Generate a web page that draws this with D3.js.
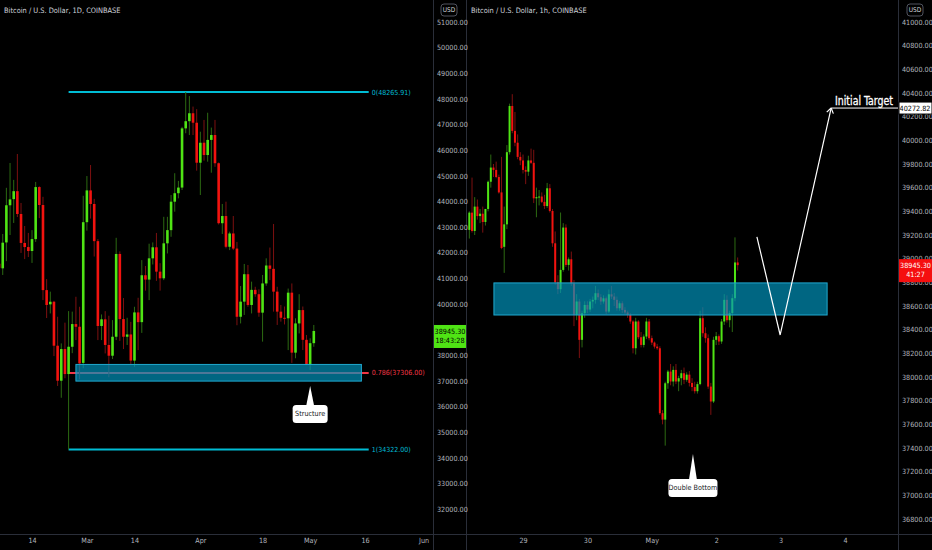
<!DOCTYPE html>
<html><head><meta charset="utf-8">
<script src="https://cdn.jsdelivr.net/npm/d3@7"></script>
<style>
html,body{margin:0;padding:0;background:#000;}
svg{display:block;}
text{font-family:'Liberation Sans Narrow','DejaVu Sans Condensed','Liberation Sans',Arial,sans-serif;}
</style></head><body>
<svg id="c" width="932" height="550"></svg>
<script>
// ---------------- DATA ----------------
// Left chart: BTC/USD daily, starting 2022-02-05, consecutive days
const leftStart = "2022-02-05";
const leftOpen = [41570,41390,42400,43850,44090,44400,43510,42380,42220,42065,42530,44560,43860,40540,39985,40086,38370,37005,38240,37265,38330,39215,39110,37700,
43190,44430,43900,42450,39140,39400,38400,37980,38720,41950,39410,38720,38810,37790,39670,39290,41120,40950,41780,42210,41260,41000,42365,42880,43990,44320,44540,46850,47130,47440,47070,
45510,46290,45810,46400,46590,45490,43150,43430,42230,42750,42160,39500,40090,41160,39960,40550,40380,39660,40800,41500,41370,40480,39700,39460,39440,40440,38100,39240,39760,38600,
37630,38470];
const leftHigh = [41940,42730,44530,45500,44840,45850,43940,43040,42770,42880,44760,44590,44180,40970,40480,40120,39500,38460,39270,39720,39700,40280,39890,44220,
44990,45420,44100,42530,39590,39720,39540,39370,42580,42050,40230,39460,39300,39890,40240,41710,41480,42350,42400,42770,41590,43400,43400,44250,45100,44800,46910,48266,48110,47700,47600,
46720,47180,47460,46880,47180,45520,43900,43990,42820,43430,42420,40700,41560,41520,40870,40670,40570,41130,41780,42200,43120,40670,39960,39900,40600,40800,39440,40380,39900,38790,
38660,39180];
const leftLow = [41100,41130,41670,42690,43160,43390,41990,41750,41830,41600,42420,43350,40150,39450,39630,37965,36800,36340,37100,34322,38080,38590,37060,37490,
42860,43330,41850,38590,38590,38070,37140,37850,38590,38560,38240,38400,37620,37550,38200,38870,40520,40150,41540,40900,40520,40930,41970,42620,43600,44120,44445,46660,46590,46590,45200,
44250,45590,45550,45120,45350,43100,42730,42170,42100,42100,39170,39240,39570,39890,39630,40280,39500,38530,40710,40930,39700,39180,39310,39200,38200,37700,37880,38850,38200,37620,
37420,38330];
const leftClose = [41410,42390,43850,44080,44400,43510,42380,42220,42065,42530,44560,43860,40540,39960,40086,38370,37005,38240,37265,38330,39215,39110,37680,43190,
44430,43900,42450,39140,39400,38400,37980,38720,41950,39410,38720,38810,37790,39670,39290,41120,40950,41780,42210,41260,41000,42365,42880,43990,44320,44540,46850,47130,47440,47070,45510,
46290,45810,46400,46590,45490,43150,43430,42230,42750,42160,39500,40090,41160,39960,40550,40380,39660,40800,41500,41370,40480,39700,39460,39440,40440,38100,39240,39760,38600,37630,
38470,38945.3];

// 39000.00 is hidden behind the last-price badge on the left scale
const leftPriceTicks = [32000,33000,34000,35000,36000,37000,38000,40000,41000,42000,43000,44000,45000,46000,47000,48000,49000,50000,51000];
const leftTimeTicks = ["2022-02-14","2022-03-01","2022-03-14","2022-04-01","2022-04-18","2022-05-01","2022-05-16","2022-06-01"];
const leftTimeLabels = ["14","Mar","14","Apr","18","May","16","Jun"];

const fibLevels = ["0","0.786","1"];
const fibPrices = [48265.91, 37306.00, 34322.00];
const fibRange = ["2022-02-24","2022-05-17"];
const leftZone = {from:"2022-02-26", to:"2022-05-15", top:37640, bottom:36990};
const leftCallout = {date:"2022-05-01", price:36800, text:"Structure"};
const leftLast = {price:38945.30, countdown:"18:43:28"};

// Right chart: BTC/USD hourly, starting 2022-04-28 04:00, consecutive hours
const rightStart = "2022-04-28 04:00";
const rightOpen = [39243,39389,39234,39440,39360,39380,39310,39420,39650,39770,39750,39690,39560,39100,39290,39900,40290,40080,39980,39860,
39830,39750,39735,39830,39810,39510,39520,39525,39480,39445,39595,39403,39130,38800,38742,38905,39263,38947,38995,38790,
38525,38638,38314,38539,38609,38570,38638,38652,38708,38674,38638,38665,38553,38699,38680,38652,38581,38623,38567,38545,
38525,38469,38243,38469,38336,38271,38342,38469,38328,38291,38257,38243,37694,37640,37947,38046,37962,38060,37962,37990,
38032,37976,38020,37950,37915,37880,37940,38497,38370,38328,37919,37793,38314,38345,38300,38469,38652,38480,38540,38666,
38968];
const rightHigh = [39400,39685,39520,39500,39420,39440,39420,39660,39880,39800,39820,39710,39860,39440,39960,40310,40390,40240,40050,39900,
39880,39780,39870,39930,39920,39600,39580,39560,39540,39640,39630,39420,39230,38860,39390,39300,39290,39010,39060,38820,
38700,38660,38560,38640,38640,38660,38680,38770,38740,38700,38690,38680,38740,38770,38710,38680,38640,38640,38590,38560,
38540,38480,38500,38480,38380,38360,38500,38490,38350,38300,38280,38260,37720,37960,38060,38110,38090,38110,38010,38060,
38080,38040,38050,37990,37960,37960,38560,38590,38420,38360,37950,38340,38380,38360,38490,38700,38690,38560,38700,39180,
39010];
const rightLow = [39170,39220,39200,39330,39300,39220,39280,39400,39600,39690,39680,39550,39080,38880,39250,39880,40060,39950,39840,39790,
39720,39630,39700,39800,39470,39350,39450,39470,39420,39430,39390,39100,38780,38700,38710,38890,38930,38900,38770,38430,
38480,38160,38250,38500,38540,38550,38580,38620,38650,38610,38620,38530,38540,38660,38600,38560,38560,38540,38530,38500,
38450,38200,38190,38320,38250,38250,38320,38310,38270,38240,38230,37680,37600,37420,37900,37930,37920,37940,37880,37930,
37940,37960,37920,37880,37860,37860,37930,38340,38290,37900,37680,37780,38270,38270,38280,38440,38460,38420,38380,38640,
38900];
const rightClose = [39389,39234,39440,39360,39380,39310,39420,39650,39770,39750,39690,39560,39090,39290,39900,40290,40080,39980,39860,39830,
39750,39735,39830,39810,39510,39520,39525,39480,39445,39595,39403,39130,38800,38742,38905,39263,38947,38995,38790,38525,
38638,38314,38539,38609,38570,38638,38652,38708,38674,38638,38665,38553,38699,38680,38652,38581,38623,38567,38545,38525,
38469,38243,38469,38336,38271,38342,38469,38328,38291,38257,38243,37694,37640,37947,38046,37962,38060,37962,37990,38032,
37976,38020,37950,37915,37880,37940,38497,38370,38328,37919,37793,38314,38345,38300,38469,38652,38480,38540,38666,38968,
38945.3];

const rightPriceTicks = [36800,37000,37200,37400,37600,37800,38000,38200,38400,38600,38800,39000,39200,39400,39600,39800,40000,40200,40400,40600,40800,41000];
const rightTimeTicks = ["2022-04-29 00:00","2022-04-30 00:00","2022-05-01 00:00","2022-05-02 00:00","2022-05-03 00:00","2022-05-04 00:00"];
const rightTimeLabels = ["29","30","May","2","3","4"];
const rightZone = {from:"2022-04-28 13:10", to:"2022-05-03 17:20", top:38795, bottom:38524};
const arrowTimes = ["2022-05-02 15:10","2022-05-02 23:50","2022-05-03 18:50"];
const arrowPrices = [39185, 38355, 40272.82];
const targetPrice = 40272.82;
const targetText = "Initial Target";
const rightCallout = {date:"2022-05-01 15:20", price:37350, text:"Double Bottom"};
const rightLast = {price:38945.30, countdown:"41:27"};

// ---------------- SETUP ----------------
const W = 932, H = 550;
const AX_Y = 534;
const L_END = 433, R_START = 467, R_END = 898;
const pDay = d3.timeParse("%Y-%m-%d");
const pHour = d3.timeParse("%Y-%m-%d %H:%M");

const C = {
  upBody:"#4fe414", dnBody:"#f2130f", upWick:"#2c6a12", dnWick:"#7d1010",
  axisTxt:"#b2b5be", sep:"#2a2e39", cyan:"#00bcd4", fibRed:"#f23645",
  zoneFill:"#0096bf", zoneStroke:"#1fa9cf"
};

const svg = d3.select("#c");
svg.append("rect").attr("width",W).attr("height",H).attr("fill","#000");
const defs = svg.append("defs");
defs.append("clipPath").attr("id","clipL").append("rect").attr("x",0).attr("y",0).attr("width",L_END).attr("height",AX_Y);
defs.append("clipPath").attr("id","clipR").append("rect").attr("x",R_START).attr("y",0).attr("width",R_END-R_START).attr("height",AX_Y);

const yL = d3.scaleLinear().domain([32000,51000]).range([509,22]);
const xL = d3.scaleTime().domain([pDay("2022-02-14"), pDay("2022-06-01")]).range([32,423.6]);
const yR = d3.scaleLinear().domain([36800,41000]).range([519,22]);
const xR = d3.scaleTime().domain([pHour("2022-04-29 00:00"), pHour("2022-05-04 00:00")]).range([523,845]);

const leftData = leftOpen.map((o,i)=>({t:d3.timeDay.offset(pDay(leftStart), i), o, h:leftHigh[i], l:leftLow[i], c:leftClose[i]}));
const rightData = rightOpen.map((o,i)=>({t:d3.timeHour.offset(pHour(rightStart), i), o, h:rightHigh[i], l:rightLow[i], c:rightClose[i]}));

function drawCandles(g, data, x, y, bw){
  g.selectAll("line.wick").data(data).join("line").attr("class","wick")
    .attr("x1",d=>x(d.t)).attr("x2",d=>x(d.t))
    .attr("y1",d=>y(d.h)).attr("y2",d=>y(d.l))
    .attr("stroke",d=>d.c>=d.o?C.upWick:C.dnWick).attr("stroke-width",1);
  g.selectAll("rect.body").data(data).join("rect").attr("class","body")
    .attr("x",d=>x(d.t)-bw/2).attr("width",bw)
    .attr("y",d=>Math.min(y(d.o),y(d.c)))
    .attr("height",d=>Math.max(1,Math.abs(y(d.o)-y(d.c))))
    .attr("fill",d=>d.c>=d.o?C.upBody:C.dnBody);
}

// ---------------- LEFT PANEL ----------------
const gL = svg.append("g").attr("clip-path","url(#clipL)");
const fx1 = xL(pDay(fibRange[0])), fx2 = xL(pDay(fibRange[1]));
fibPrices.forEach((p,i)=>{
  gL.append("line").attr("x1",fx1).attr("x2",fx2).attr("y1",yL(p)).attr("y2",yL(p))
    .attr("stroke", fibLevels[i]==="0.786"?C.fibRed:C.cyan).attr("stroke-width",2);
});
drawCandles(gL.append("g"), leftData, xL, yL, 2.6);
gL.append("rect")
  .attr("x",xL(pDay(leftZone.from))).attr("width",xL(pDay(leftZone.to))-xL(pDay(leftZone.from)))
  .attr("y",yL(leftZone.top)).attr("height",yL(leftZone.bottom)-yL(leftZone.top))
  .attr("fill",C.zoneFill).attr("fill-opacity",0.68).attr("stroke",C.zoneStroke).attr("stroke-width",1);
fibPrices.forEach((p,i)=>{
  svg.append("text").attr("x",fx2+3).attr("y",yL(p)).attr("dy","0.35em")
    .attr("font-size",7).attr("fill",fibLevels[i]==="0.786"?C.fibRed:C.cyan)
    .text(`${fibLevels[i]}(${d3.format(".2f")(p)})`);
});

function callout(g, tx, ty, w, h, gap, text){
  const bx = tx - w/2, by = ty + gap;
  g.append("path").attr("d",`M${tx},${ty} L${tx+4},${by+1} L${tx-4},${by+1} Z`).attr("fill","#fff");
  g.append("rect").attr("x",bx).attr("y",by).attr("width",w).attr("height",h).attr("rx",3.5).attr("fill","#fff");
  g.append("text").attr("x",tx).attr("y",by+h/2).attr("dy","0.35em").attr("text-anchor","middle")
    .attr("font-size",7.2).attr("fill","#131722").text(text);
}
callout(svg, xL(pDay(leftCallout.date)), yL(leftCallout.price), 35, 18, 19, leftCallout.text);

// ---------------- RIGHT PANEL ----------------
const gR = svg.append("g").attr("clip-path","url(#clipR)");
drawCandles(gR.append("g"), rightData, xR, yR, 2);
gR.append("rect")
  .attr("x",xR(pHour(rightZone.from))).attr("width",xR(pHour(rightZone.to))-xR(pHour(rightZone.from)))
  .attr("y",yR(rightZone.top)).attr("height",yR(rightZone.bottom)-yR(rightZone.top))
  .attr("fill",C.zoneFill).attr("fill-opacity",0.68).attr("stroke",C.zoneStroke).attr("stroke-width",1);
const pts = arrowTimes.map((t,i)=>[xR(pHour(t)), yR(arrowPrices[i])]);
gR.append("path").attr("d",d3.line()(pts)).attr("fill","none").attr("stroke","#fff").attr("stroke-width",1.2);
const tip = pts[2], prev = pts[1];
const ang = Math.atan2(prev[1]-tip[1], prev[0]-tip[0]);
[-0.6,0.6].forEach(da=>{
  gR.append("line").attr("x1",tip[0]).attr("y1",tip[1])
    .attr("x2",tip[0]+6*Math.cos(ang+da)).attr("y2",tip[1]+6*Math.sin(ang+da))
    .attr("stroke","#fff").attr("stroke-width",1.2);
});
svg.append("line").attr("x1",tip[0]).attr("x2",R_END).attr("y1",yR(targetPrice)).attr("y2",yR(targetPrice))
  .attr("stroke","#fff").attr("stroke-width",1);
svg.append("text").attr("x",835).attr("y",yR(targetPrice)-3)
  .attr("font-size",12.5).attr("font-weight","normal").attr("fill","#fff")
  .attr("stroke","#fff").attr("stroke-width",0.3)
  .attr("textLength",58).attr("lengthAdjust","spacingAndGlyphs").text(targetText);

callout(svg, xR(pHour(rightCallout.date)), yR(rightCallout.price), 49, 18, 25, rightCallout.text);

// ---------------- SEPARATORS ----------------
svg.append("line").attr("x1",0).attr("x2",W).attr("y1",AX_Y+0.5).attr("y2",AX_Y+0.5).attr("stroke",C.sep);
[L_END+0.5, R_START-0.5, R_END+0.5].forEach(x=>{
  svg.append("line").attr("x1",x).attr("x2",x).attr("y1",0).attr("y2",H).attr("stroke",C.sep);
});

// ---------------- AXES ----------------
function styleAxis(g){
  g.select(".domain").remove();
  g.selectAll("text").attr("fill",C.axisTxt).attr("font-size",7.2)
    .attr("font-family","'Liberation Sans Narrow','DejaVu Sans Condensed',Arial,sans-serif");
}
svg.append("g").attr("transform",`translate(${L_END},0)`)
  .call(d3.axisRight(yL).tickValues(leftPriceTicks).tickFormat(d3.format(".2f")).tickSize(0).tickPadding(4))
  .call(styleAxis);
svg.append("g").attr("transform",`translate(${R_END},0)`)
  .call(d3.axisRight(yR).tickValues(rightPriceTicks).tickFormat(d3.format(".2f")).tickSize(0).tickPadding(4))
  .call(styleAxis);
svg.append("g").attr("transform",`translate(0,${AX_Y+4})`)
  .call(d3.axisBottom(xL).tickValues(leftTimeTicks.map(pDay)).tickFormat((d,i)=>leftTimeLabels[i]).tickSize(0).tickPadding(0))
  .call(styleAxis);
svg.append("g").attr("transform",`translate(0,${AX_Y+4})`)
  .call(d3.axisBottom(xR).tickValues(rightTimeTicks.map(pHour)).tickFormat((d,i)=>rightTimeLabels[i]).tickSize(0).tickPadding(0))
  .call(styleAxis);

// ---------------- BADGES ----------------
function priceBadge(x, y, w, fill, txt, lines){
  svg.append("rect").attr("x",x).attr("y",y-6).attr("width",w).attr("height",lines.length*9+5).attr("fill",fill);
  lines.forEach((s,i)=>{
    svg.append("text").attr("x",x+w/2).attr("y",y+i*9).attr("dy","0.35em").attr("text-anchor","middle")
      .attr("font-size",7.2).attr("fill",txt).text(s);
  });
}
priceBadge(L_END+1, yL(leftLast.price), 32, C.upBody, "#000", [d3.format(".2f")(leftLast.price), leftLast.countdown]);
priceBadge(R_END+1, yR(rightLast.price), 33, "#f50f0f", "#fff", [d3.format(".2f")(rightLast.price), rightLast.countdown]);
svg.append("rect").attr("x",R_END+1).attr("y",yR(targetPrice)-6).attr("width",33).attr("height",12)
  .attr("fill","#fff").attr("stroke","#000");
svg.append("text").attr("x",R_END+17).attr("y",yR(targetPrice)).attr("dy","0.35em").attr("text-anchor","middle")
  .attr("font-size",7.2).attr("fill","#000").text(d3.format(".2f")(targetPrice));

// ---------------- TITLES ----------------
const titles = ["Bitcoin / U.S. Dollar, 1D, COINBASE","Bitcoin / U.S. Dollar, 1h, COINBASE"];
[4, 471].forEach((x,i)=>{
  svg.append("text").attr("x",x).attr("y",10).attr("dy","0.35em").attr("font-size",7.4)
    .attr("fill","#d1d4dc").text(titles[i]);
});
[449, 915].forEach(x=>{
  svg.append("rect").attr("x",x-8).attr("y",4).attr("width",16).attr("height",12).attr("rx",3)
    .attr("fill","#000").attr("stroke","#50535e");
  svg.append("text").attr("x",x).attr("y",10).attr("dy","0.35em").attr("text-anchor","middle")
    .attr("font-size",6.5).attr("fill","#d1d4dc").text("USD");
});
</script>
</body></html>
